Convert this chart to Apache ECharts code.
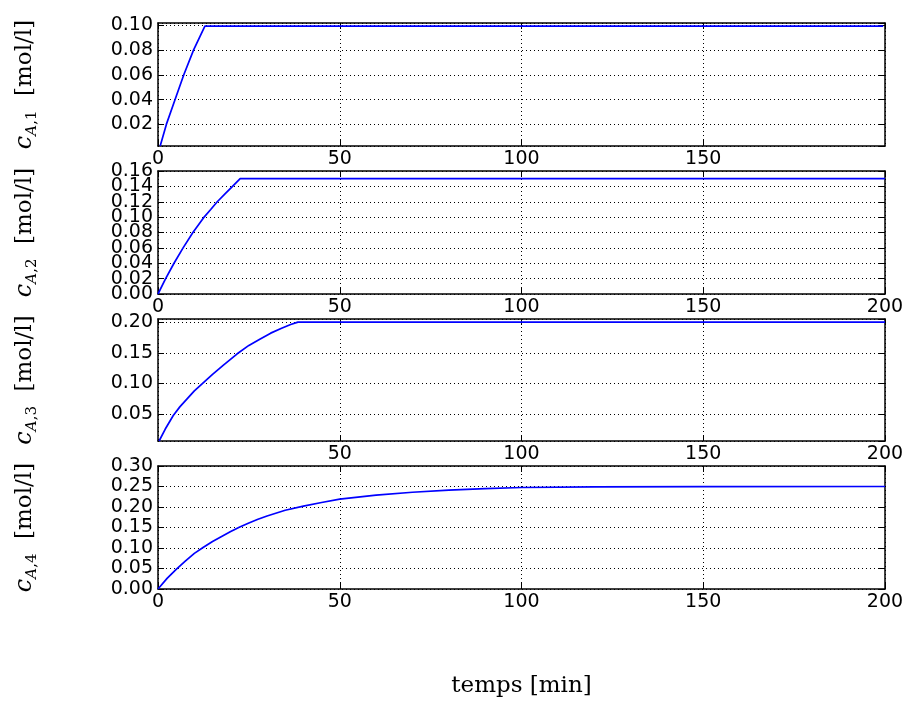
<!DOCTYPE html>
<html style="height: 100%">
   <head>
       <meta charset="utf-8">
   </head>
   <body style="height: 100%; margin: 0; background: #fff">
       <div id="container" style="width: 905px; height: 707px"></div>
       <script type="text/javascript" src="https://cdn.jsdelivr.net/npm/echarts@6.0.0/dist/echarts.min.js"></script>
       <script type="text/javascript">
        // time [min] and concentration [mol/l] for the four tanks
        var tA1 = [0.6, 2.3, 4.7, 7.1, 9.8, 12.9, 199.5];
        var cA1 = [0.0026, 0.02, 0.04, 0.06, 0.08, 0.0992, 0.0992];

        var tA2 = [0, 2.1, 4.4, 6.9, 9.6, 12.5, 14.5, 16.3, 18.5, 20.5, 22.6, 200];
        var cA2 = [0, 0.02, 0.04, 0.06, 0.08, 0.099, 0.110, 0.12, 0.1305, 0.14, 0.15, 0.15];

        var tA3 = [0.3, 2, 4.2, 6, 8, 10, 12.2, 15, 18, 21.7, 25, 28, 31, 34, 36.5, 38.5, 200];
        var cA3 = [0.0065, 0.026, 0.048, 0.062, 0.075, 0.088, 0.10, 0.115, 0.13, 0.148, 0.162, 0.172, 0.182, 0.19, 0.196, 0.20, 0.20];

        var tA4 = [0, 2.5, 5, 7.5, 10, 12.5, 15, 17.5, 20, 22.5, 25, 27.5, 30, 35, 40, 45, 50, 60, 70, 80, 90, 100, 120, 150, 200];
        var cA4 = [0, 0.026, 0.048, 0.068, 0.087, 0.102, 0.116, 0.128, 0.14, 0.151, 0.161, 0.17, 0.178, 0.192, 0.202, 0.211, 0.219, 0.229, 0.236, 0.241, 0.245, 0.2475, 0.249, 0.2497, 0.25];

        var xTicks = [0, 50, 100, 150, 200];
        var yLabels = ['1', '2', '3', '4'];

        var panels = [
            {t: tA1, c: cA1, top: 23, height: 123, ymin: 0.0026, ymax: 0.1017, step: 0.02, split: 5, minLbl: false, maxLbl: false, hideX: 'max'},
            {t: tA2, c: cA2, top: 171, height: 123, ymin: 0, ymax: 0.16, step: 0.02, split: 8, minLbl: true, maxLbl: true, hideX: null, dense: true},
            {t: tA3, c: cA3, top: 319, height: 122, ymin: 0.0065, ymax: 0.205, step: 0.05, split: 4, minLbl: false, maxLbl: false, hideX: 'min'},
            {t: tA4, c: cA4, top: 466, height: 123, ymin: 0, ymax: 0.30, step: 0.05, split: 6, minLbl: true, maxLbl: true, hideX: null}
        ];

        var dom = document.getElementById("container");
        var myChart = echarts.init(dom, null, {renderer: 'canvas'});

        var lbl = {fontFamily: 'DejaVu Sans', fontSize: 19, color: '#000', hideOverlap: false};
        var dotted = {show: true, lineStyle: {color: '#000', width: 1, type: [1, 3]}};
        var line = {show: true, onZero: false, lineStyle: {color: '#000', width: 1.5}};
        var tick = {show: true, inside: true, length: 6, lineStyle: {color: '#000', width: 1}};
        var serif = 'DejaVu Serif';

        // crowded axis: labels split over two overlaid axes (even / odd steps)
        function fmtPart(step, parity) {
            return function (v) {
                if (parity === null) return v.toFixed(2);
                return Math.round(v / step) % 2 === parity ? v.toFixed(2) : '';
            };
        }

        var grids = [], xAxes = [], yAxes = [], series = [];

        panels.forEach(function (p, i) {
            grids.push({left: 158, right: 20, top: p.top, height: p.height, outerBoundsMode: 'none'});

            var yBase = {
                gridIndex: i, type: 'value', min: p.ymin, max: p.ymax,
                splitNumber: p.split, minInterval: p.step, maxInterval: p.step,
                axisLine: line, axisTick: tick
            };
            var xBase = {
                gridIndex: i, type: 'value', min: xTicks[0], max: xTicks[xTicks.length - 1],
                interval: 50, axisLine: line, axisTick: tick
            };

            var xIdx = xAxes.length;
            var xb = Object.assign({}, xBase, {
                position: 'bottom',
                splitLine: dotted,
                axisLabel: Object.assign({}, lbl, {
                    margin: 4,
                    showMinLabel: p.hideX !== 'min',
                    showMaxLabel: p.hideX !== 'max'
                })
            });
            if (i === panels.length - 1) {
                xb.name = 'temps [min]';
                xb.nameLocation = 'middle';
                xb.nameGap = 86;
                xb.nameTextStyle = {fontFamily: serif, fontSize: 23, color: '#000'};
            }
            xAxes.push(xb);
            xAxes.push(Object.assign({}, xBase, {position: 'top', splitLine: {show: false}, axisLabel: {show: false}}));

            var yIdx = yAxes.length;
            yAxes.push(Object.assign({}, yBase, {
                position: 'left',
                splitLine: dotted,
                axisLabel: Object.assign({}, lbl, {
                    margin: 5, interval: 0,
                    showMinLabel: p.minLbl,
                    showMaxLabel: p.maxLbl,
                    formatter: fmtPart(p.step, p.dense ? 0 : null)
                }),
                name: '{c|c}{a|A}{s|,' + yLabels[i] + '}{n|  [mol/l]}',
                nameLocation: 'middle',
                nameGap: 118,
                nameTextStyle: {
                    fontFamily: serif, fontSize: 23, color: '#000',
                    rich: {
                        c: {fontFamily: serif, fontStyle: 'italic', fontSize: 24, color: '#000', lineHeight: 30},
                        a: {fontFamily: serif, fontStyle: 'italic', fontSize: 15, color: '#000', lineHeight: 30, verticalAlign: 'bottom'},
                        s: {fontFamily: serif, fontSize: 15, color: '#000', lineHeight: 30, verticalAlign: 'bottom'},
                        n: {fontFamily: serif, fontSize: 23, color: '#000', lineHeight: 30}
                    }
                }
            }));
            yAxes.push(Object.assign({}, yBase, {position: 'right', splitLine: {show: false}, axisLabel: {show: false}}));
            if (p.dense) {
                yAxes.push(Object.assign({}, yBase, {
                    position: 'left',
                    axisLine: {show: false}, axisTick: {show: false}, splitLine: {show: false},
                    axisLabel: Object.assign({}, lbl, {
                        margin: 5, interval: 0,
                        showMinLabel: false,
                        showMaxLabel: false,
                        formatter: fmtPart(p.step, 1)
                    })
                }));
            }

            series.push({
                type: 'line',
                xAxisIndex: xIdx,
                yAxisIndex: yIdx,
                showSymbol: false,
                animation: false,
                lineStyle: {color: '#0000ff', width: 1.7},
                data: p.t.map(function (t, k) { return [t, p.c[k]]; })
            });
        });

        var option = {
            backgroundColor: '#fff',
            animation: false,
            grid: grids,
            xAxis: xAxes,
            yAxis: yAxes,
            series: series
        };

        myChart.setOption(option);
       </script>
   </body>
</html>
